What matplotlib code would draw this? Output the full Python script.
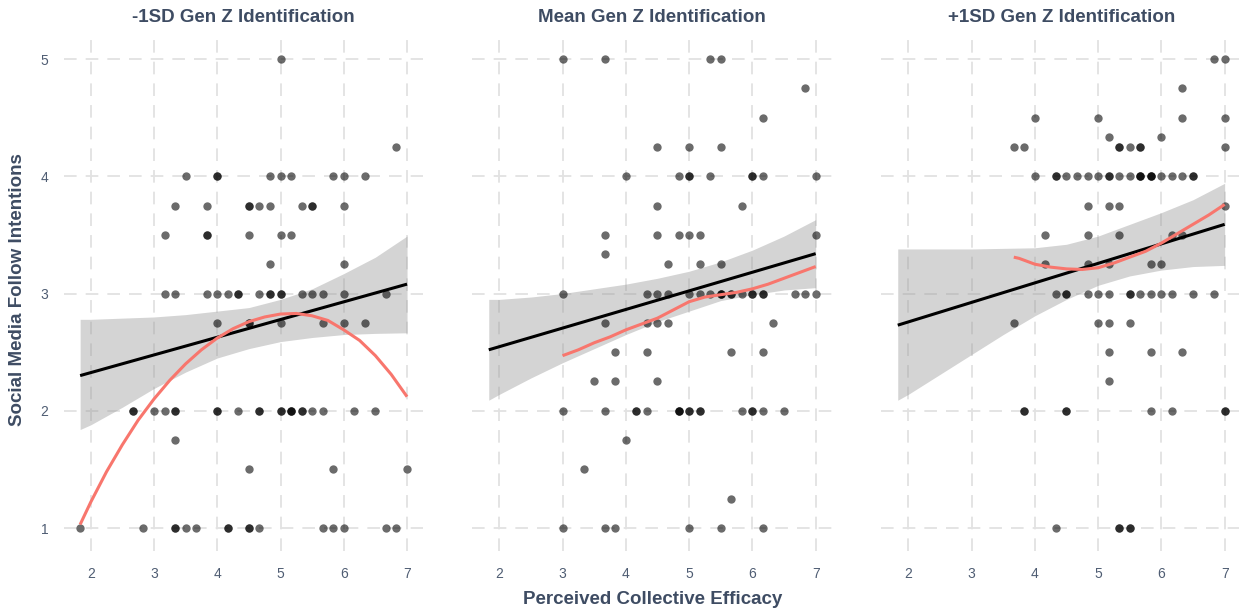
import matplotlib
matplotlib.use('Agg')
import matplotlib.pyplot as plt
import numpy as np

plt.rcParams['font.family'] = ['Liberation Sans', 'DejaVu Sans']

# ---------------- data ----------------
titles = ['-1SD Gen Z Identification', 'Mean Gen Z Identification', '+1SD Gen Z Identification']
x_label = 'Perceived Collective Efficacy'
y_label = 'Social Media Follow Intentions'
x_ticks = [2, 3, 4, 5, 6, 7]
y_ticks = [1, 2, 3, 4, 5]

# scatter points: y level -> x values (repeats = overlapping points)
lo_points = {
    5.0: [5.0],
    4.25: [6.833],
    4.0: [3.5, 4.0, 4.0, 4.833, 5.0, 5.167, 5.833, 6.0, 6.333],
    3.75: [3.333, 3.833, 4.5, 4.5, 4.667, 4.833, 5.333, 5.5, 5.5, 6.0],
    3.5: [3.167, 3.833, 3.833, 4.5, 5.0, 5.167],
    3.25: [4.833, 6.0],
    3.0: [3.167, 3.333, 3.833, 4.0, 4.167, 4.333, 4.333, 4.667, 4.833, 4.833,
          5.0, 5.0, 5.333, 5.5, 5.667, 6.0, 6.667],
    2.75: [4.0, 4.5, 4.5, 5.0, 5.667, 6.0, 6.333],
    2.0: [2.667, 2.667, 3.0, 3.167, 3.333, 3.333, 4.0, 4.0, 4.333, 4.667, 4.667,
          5.0, 5.0, 5.167, 5.167, 5.167, 5.333, 5.333, 5.5, 5.667, 6.167, 6.5],
    1.75: [3.333],
    1.5: [4.5, 5.833, 7.0],
    1.0: [1.833, 2.833, 3.333, 3.333, 3.5, 3.667, 4.167, 4.167, 4.5, 4.5, 4.667,
          5.667, 5.833, 6.0, 6.667, 6.833],
}
mean_points = {
    5.0: [3.0, 3.667, 5.333, 5.5],
    4.75: [6.833],
    4.5: [6.167],
    4.25: [4.5, 5.0, 5.5],
    4.0: [4.0, 4.833, 5.0, 5.0, 5.333, 6.0, 6.0, 6.167, 7.0],
    3.75: [4.5, 5.833],
    3.5: [3.667, 4.5, 4.833, 5.0, 5.167, 7.0],
    3.333: [3.667],
    3.25: [4.667, 5.167, 5.5],
    3.0: [3.0, 4.333, 4.5, 4.667, 5.0, 5.167, 5.333, 5.5, 5.5, 5.5, 5.667, 5.667,
          5.833, 6.0, 6.0, 6.167, 6.167, 6.667, 6.833, 7.0],
    2.75: [3.667, 4.333, 4.5, 4.667, 6.333],
    2.5: [3.833, 4.333, 5.667, 6.167],
    2.25: [3.5, 3.833, 4.5],
    2.0: [3.0, 3.667, 4.167, 4.167, 4.333, 4.833, 4.833, 4.833, 5.0, 5.0, 5.167,
          5.167, 5.833, 6.0, 6.0, 6.167, 6.5],
    1.75: [4.0],
    1.5: [3.333],
    1.25: [5.667],
    1.0: [3.0, 3.667, 3.833, 5.0, 5.5, 6.167],
}
hi_points = {
    5.0: [6.833, 7.0],
    4.75: [6.333],
    4.5: [4.0, 5.0, 6.333, 7.0],
    4.333: [5.167, 6.0],
    4.25: [3.667, 3.833, 5.333, 5.333, 5.5, 5.667, 5.667, 7.0],
    4.0: [4.0, 4.333, 4.333, 4.5, 4.667, 4.833, 5.0, 5.167, 5.167, 5.333, 5.5,
          5.667, 5.667, 5.667, 5.833, 5.833, 5.833, 6.0, 6.167, 6.333, 6.5, 6.5],
    3.75: [4.833, 5.167, 5.333, 7.0],
    3.5: [4.167, 4.833, 5.333, 6.167, 6.333],
    3.25: [4.167, 4.833, 5.167, 5.833, 6.0],
    3.0: [4.333, 4.5, 4.5, 4.833, 5.0, 5.167, 5.5, 5.5, 5.667, 5.833, 6.0, 6.167,
          6.5, 6.833],
    2.75: [3.667, 5.0, 5.167, 5.5],
    2.5: [5.167, 5.833, 6.333],
    2.25: [5.167],
    2.0: [3.833, 3.833, 4.5, 4.5, 5.833, 6.167, 7.0, 7.0],
    1.0: [4.333, 5.333, 5.333, 5.5, 5.5],
}

# simple-slope lines (model prediction) with confidence band
band_x = [1.833, 2.0, 2.5, 3.0, 3.5, 4.0, 4.5, 5.0, 5.5, 6.0, 6.5, 7.0]
lo_band_upper = [2.78, 2.78, 2.79, 2.80, 2.82, 2.85, 2.88, 2.95, 3.04, 3.17, 3.31, 3.49]
lo_band_lower = [1.84, 1.88, 2.03, 2.19, 2.33, 2.45, 2.53, 2.59, 2.625, 2.65, 2.66, 2.665]
mean_band_upper = [2.95, 2.95, 2.97, 3.00, 3.04, 3.08, 3.13, 3.19, 3.27, 3.37, 3.49, 3.63]
mean_band_lower = [2.09, 2.14, 2.28, 2.41, 2.53, 2.65, 2.76, 2.85, 2.94, 2.99, 3.03, 3.05]
hi_band_upper = [3.38, 3.38, 3.38, 3.38, 3.385, 3.39, 3.42, 3.49, 3.59, 3.69, 3.80, 3.94]
hi_band_lower = [2.09, 2.14, 2.31, 2.48, 2.65, 2.81, 2.95, 3.07, 3.15, 3.20, 3.23, 3.24]

line_x = [1.833, 7.0]
lo_line_y = [2.30, 3.08]
mean_line_y = [2.52, 3.34]
hi_line_y = [2.73, 3.59]

# loess curves (red)
lo_smooth_x = [1.833, 2.0, 2.25, 2.5, 2.75, 3.0, 3.25, 3.5, 3.75, 4.0, 4.25, 4.5, 4.75,
               5.0, 5.25, 5.5, 5.75, 6.0, 6.25, 6.5, 6.75, 7.0]
lo_smooth_y = [1.03, 1.22, 1.48, 1.71, 1.92, 2.10, 2.26, 2.40, 2.52, 2.62, 2.70, 2.76, 2.80,
               2.825, 2.83, 2.81, 2.77, 2.69, 2.60, 2.47, 2.31, 2.12]
mean_smooth_x = [3.0, 3.25, 3.5, 3.75, 4.0, 4.25, 4.5, 4.75, 5.0, 5.25, 5.5, 5.75, 6.0,
                 6.25, 6.5, 6.75, 7.0]
mean_smooth_y = [2.47, 2.52, 2.58, 2.63, 2.69, 2.74, 2.79, 2.86, 2.93, 2.97, 2.99, 3.01, 3.04,
                 3.08, 3.13, 3.18, 3.23]
hi_smooth_x = [3.667, 3.75, 4.0, 4.25, 4.5, 4.75, 5.0, 5.25, 5.5, 5.75, 6.0, 6.25, 6.5,
               6.75, 7.0]
hi_smooth_y = [3.31, 3.30, 3.25, 3.225, 3.21, 3.205, 3.22, 3.26, 3.31, 3.36, 3.43, 3.51, 3.59,
               3.67, 3.76]

panels = [
    (lo_points, lo_band_upper, lo_band_lower, lo_line_y, lo_smooth_x, lo_smooth_y),
    (mean_points, mean_band_upper, mean_band_lower, mean_line_y, mean_smooth_x, mean_smooth_y),
    (hi_points, hi_band_upper, hi_band_lower, hi_line_y, hi_smooth_x, hi_smooth_y),
]

# ---------------- styling ----------------
text_col = '#3e4c63'
tick_col = '#4f5d73'
grid_col = '#e2e2e2'

fig = plt.figure(figsize=(12.39, 6.12), dpi=100)
lefts = [0.0515, 0.3813, 0.7114]
width = 0.2902
bottom = 0.0989
height = 0.843

for i, (pts, bu, bl, ly, sx, sy) in enumerate(panels):
    ax = fig.add_axes([lefts[i], bottom, width, height])
    ax.set_xlim(1.575, 7.258)
    ax.set_ylim(0.8, 5.2)
    ax.set_xticks(x_ticks)
    ax.set_yticks(y_ticks)
    ax.grid(True, color=grid_col, linestyle=(0, (7, 5)), linewidth=1.3, zorder=0)
    ax.set_axisbelow(True)
    for s in ax.spines.values():
        s.set_visible(False)
    ax.tick_params(length=0, labelsize=10, colors=tick_col, pad=11)
    if i > 0:
        ax.tick_params(labelleft=False)

    xs = []
    ys = []
    for yv, xlist in pts.items():
        xs.extend(xlist)
        ys.extend([yv] * len(xlist))
    ax.fill_between(band_x, bl, bu, color='#999999', alpha=0.42, linewidth=0, zorder=1)
    ax.scatter(xs, ys, s=36, color='black', alpha=0.58, linewidths=0, zorder=2)
    ax.plot(line_x, ly, color='black', linewidth=2.2, zorder=3, solid_capstyle='butt')
    ax.plot(sx, sy, color='#F8766D', linewidth=2.2, zorder=4, solid_capstyle='butt')

    cx = lefts[i] + width / 2
    fig.text(cx, 1 - 18 / 612, titles[i], ha='center', va='center', fontsize=13.5,
             fontweight='bold', color=text_col)

fig.text(lefts[1] + width / 2, 1 - 599 / 612, x_label, ha='center', va='center',
         fontsize=13.5, fontweight='bold', color=text_col)
fig.text(18 / 1239, 1 - 290 / 612, y_label, ha='center', va='center', rotation=90,
         fontsize=13.5, fontweight='bold', color=text_col)

fig.savefig('out.png', dpi=100, facecolor='white')
